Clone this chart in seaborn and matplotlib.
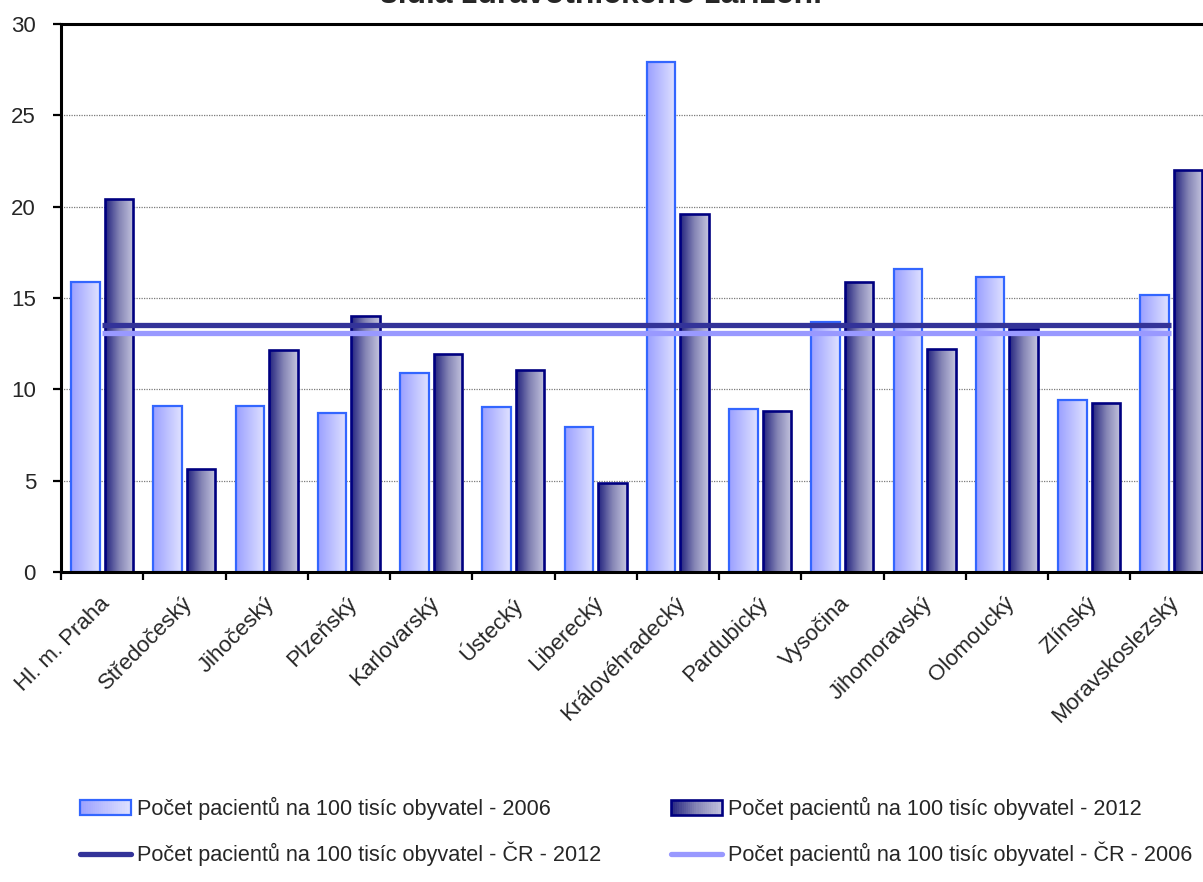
import numpy as np
import matplotlib
matplotlib.use("Agg")
import matplotlib.pyplot as plt
import matplotlib.transforms as mtransforms
from matplotlib.colors import LinearSegmentedColormap
from matplotlib.legend_handler import HandlerBase
from matplotlib.lines import Line2D
from matplotlib.patches import Patch, Rectangle
from matplotlib.ticker import FixedLocator
import pandas as pd
import seaborn as sns


sns.set_style("white")
plt.rcParams["font.family"] = ["Liberation Sans", "DejaVu Sans"]

TITLE = "sídla zdravotnického zařízení"
REGIONS = [
    "Hl. m. Praha", "Středočeský", "Jihočeský", "Plzeňský", "Karlovarský",
    "Ústecký", "Liberecký", "Královéhradecký", "Pardubický", "Vysočina",
    "Jihomoravský", "Olomoucký", "Zlínský", "Moravskoslezský",
]
VALUES_2006 = [15.9, 9.1, 9.1, 8.7, 10.9, 9.05, 7.95, 27.9, 8.9, 13.7, 16.6, 16.15, 9.4, 15.15]
VALUES_2012 = [20.4, 5.65, 12.15, 14.0, 11.95, 11.05, 4.85, 19.6, 8.8, 15.9, 12.2, 13.3, 9.25, 22.0]
CR_2012 = 13.5
CR_2006 = 13.1
YEARS = ["2006", "2012"]
LABEL_BAR = "Počet pacientů na 100 tisíc obyvatel - {}"
LABEL_CR = "Počet pacientů na 100 tisíc obyvatel - ČR - {}"

CMAP_2006 = LinearSegmentedColormap.from_list("g2006", ["#9ba0ff", "#e0e2ff"])
CMAP_2012 = LinearSegmentedColormap.from_list("g2012", ["#23237f", "#8585b5", "#c4c4de"])
EDGE_2006 = "#3366ff"
EDGE_2012 = "#000080"
LINE_2012 = "#333399"
LINE_2006 = "#9999ff"


class GradientHandler(HandlerBase):
    def __init__(self, cmap, edge, lw):
        super().__init__()
        self.cmap = cmap
        self.edge = edge
        self.lw = lw

    def create_artists(self, legend, orig_handle, xdescent, ydescent, width, height, fontsize, trans):
        n = 24
        artists = []
        for i in range(n):
            artists.append(Rectangle((-xdescent + i * width / n, -ydescent), width / n * 1.05, height,
                                     facecolor=self.cmap((i + 0.5) / n), edgecolor="none", transform=trans))
        artists.append(Rectangle((-xdescent, -ydescent), width, height, facecolor="none",
                                 edgecolor=self.edge, lw=self.lw, transform=trans))
        return artists


def fill_gradient(ax, bars, cmap, edge, lw):
    ramp = np.linspace(0, 1, 64).reshape(1, -1)
    for bar in bars:
        x, y = bar.get_x(), bar.get_y()
        w, h = bar.get_width(), bar.get_height()
        img = ax.imshow(ramp, extent=(x, x + w, y, y + h), cmap=cmap, aspect="auto",
                        origin="lower", interpolation="bilinear", zorder=2)
        img.set_clip_path(bar)
        bar.set_facecolor("none")
        bar.set_edgecolor(edge)
        bar.set_linewidth(lw)
        bar.set_zorder(2.5)


df = pd.DataFrame({
    "region": REGIONS * 2,
    "year": [YEARS[0]] * len(REGIONS) + [YEARS[1]] * len(REGIONS),
    "value": VALUES_2006 + VALUES_2012,
})

fig = plt.figure(figsize=(12.03, 8.82), dpi=100)
ax = fig.add_axes([61 / 1203, 310 / 882, 14 * 82.25 / 1203, 548 / 882])

sns.barplot(data=df, x="region", y="value", hue="year", order=REGIONS, hue_order=YEARS,
            width=0.815, gap=0.146, palette=["#c0c0ff", "#6a6aa8"], legend=False, ax=ax)

fill_gradient(ax, ax.containers[0], CMAP_2006, EDGE_2006, 1.6)
fill_gradient(ax, ax.containers[1], CMAP_2012, EDGE_2012, 1.9)

xs = np.arange(len(REGIONS))
ax.plot(xs, [CR_2012] * len(REGIONS), color=LINE_2012, lw=3.8, zorder=4, solid_capstyle="butt")
ax.plot(xs, [CR_2006] * len(REGIONS), color=LINE_2006, lw=3.8, zorder=4, solid_capstyle="butt")

ax.set_xlim(-0.5, len(REGIONS) - 0.5)
ax.set_ylim(0, 30)
ax.set_yticks(range(0, 31, 5))
ax.set_xlabel("")
ax.set_ylabel("")

ax.yaxis.grid(True, linestyle=(0, (1, 1)), color="#7a7a7a", lw=0.9)
ax.set_axisbelow(True)

for side in ["left", "bottom", "top"]:
    ax.spines[side].set_visible(True)
    ax.spines[side].set_color("black")
    ax.spines[side].set_linewidth(2.2)
ax.spines["right"].set_visible(False)

ax.tick_params(axis="y", which="major", left=True, length=6, width=1.6, color="black",
               labelsize=16, pad=12)
ax.xaxis.set_minor_locator(FixedLocator(np.arange(len(REGIONS) + 1) - 0.5))
ax.tick_params(axis="x", which="minor", bottom=True, length=6, width=1.6, color="black")
ax.tick_params(axis="x", which="major", bottom=False, length=0, labelsize=16, pad=15)

offset = mtransforms.ScaledTranslation(-3 / 100, 0, fig.dpi_scale_trans)
for label in ax.get_xticklabels():
    label.set_rotation(45)
    label.set_ha("right")
    label.set_va("top")
    label.set_rotation_mode("anchor")
    label.set_transform(label.get_transform() + offset)

fig.text(0.5, 1 - 3 / 882, TITLE, ha="center", va="baseline", fontsize=23, fontweight="bold")

handles = [
    Patch(label=LABEL_BAR.format(YEARS[0])),
    Line2D([], [], color=LINE_2012, lw=3.8, label=LABEL_CR.format(YEARS[1])),
    Patch(label=LABEL_BAR.format(YEARS[1])),
    Line2D([], [], color=LINE_2006, lw=3.8, label=LABEL_CR.format(YEARS[0])),
]
handler_map = {
    handles[0]: GradientHandler(CMAP_2006, EDGE_2006, 1.6),
    handles[2]: GradientHandler(CMAP_2012, EDGE_2012, 1.9),
}
fig.legend(handles=handles, handler_map=handler_map, ncol=2, loc="upper left",
           bbox_to_anchor=(80 / 1203, 1 - 797 / 882), frameon=False, fontsize=15.6,
           borderaxespad=0, borderpad=0, handlelength=2.35, handleheight=0.7,
           handletextpad=0.3, columnspacing=3.2, labelspacing=1.0)

fig.savefig("out.png", dpi=100)
plt.close(fig)
